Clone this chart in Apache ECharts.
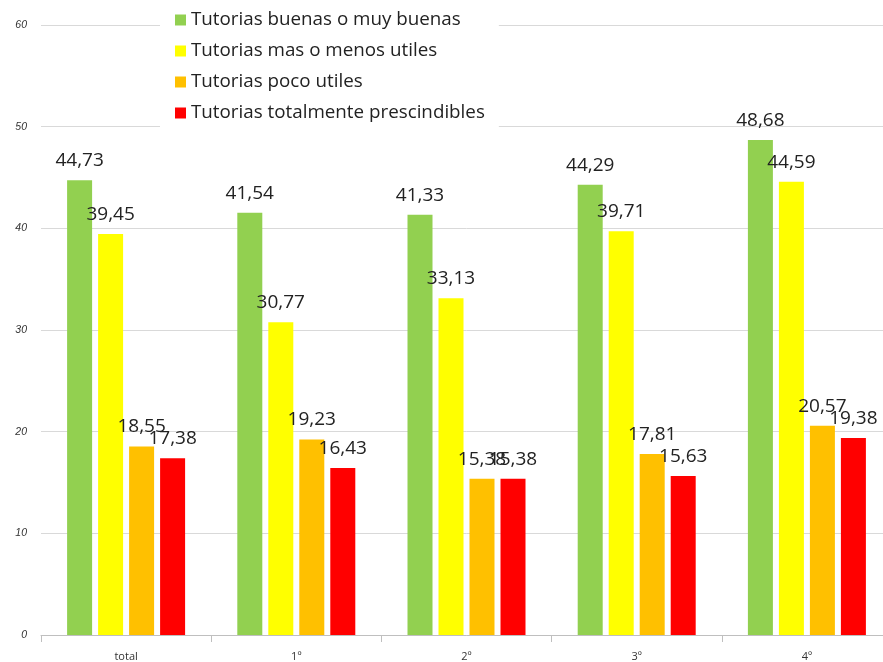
<!DOCTYPE html>
<html>
<head>
<meta charset="utf-8">
<script src="https://cdn.jsdelivr.net/npm/echarts@6/dist/echarts.min.js"></script>
<style>
html,body{margin:0;padding:0;background:#fff;overflow:hidden;width:883px;height:662px;}
#chart{width:892px;height:662px;}
</style>
</head>
<body>
<div id="chart"></div>
<script>
const categories = ['total', '1º', '2º', '3º', '4º'];
const seriesNames = [
  'Tutorias buenas o muy buenas',
  'Tutorias mas o menos utiles',
  'Tutorias poco utiles',
  'Tutorias totalmente prescindibles'
];
const buenas = [44.73, 41.54, 41.33, 44.29, 48.68];
const masMenos = [39.45, 30.77, 33.13, 39.71, 44.59];
const poco = [18.55, 19.23, 15.38, 17.81, 20.57];
const prescindibles = [17.38, 16.43, 15.38, 15.63, 19.38];
const colors = ['#92d050', '#ffff00', '#ffc000', '#ff0000'];
const yTicks = [0, 10, 20, 30, 40, 50, 60];

const chart = echarts.init(document.getElementById('chart'));
const allData = [buenas, masMenos, poco, prescindibles];

chart.setOption({
  animation: false,
  backgroundColor: '#ffffff',
  color: colors,
  grid: { left: 41, top: 25, right: 0, bottom: 27, containLabel: false },
  legend: {
    orient: 'vertical',
    left: 160,
    top: 0,
    padding: [9, 14, 12, 15],
    backgroundColor: '#ffffff',
    itemWidth: 11,
    itemHeight: 11,
    itemGap: 9,
    icon: 'rect',
    textStyle: { fontFamily: 'Open Sans', fontSize: 18.8, color: '#222', lineHeight: 22 },
    data: seriesNames
  },
  xAxis: {
    type: 'category',
    data: categories,
    axisLine: { lineStyle: { color: '#bfbfbf' } },
    axisTick: { show: true, length: 7, lineStyle: { color: '#bfbfbf' } },
    axisLabel: { fontFamily: 'Open Sans', fontSize: 11, color: '#333', margin: 16 }
  },
  yAxis: {
    type: 'value',
    min: yTicks[0],
    max: yTicks[yTicks.length - 1],
    interval: 10,
    axisLine: { show: false },
    axisTick: { show: false },
    axisLabel: { fontFamily: 'Liberation Sans', fontStyle: 'italic', fontSize: 10.5, color: '#333', margin: 14 },
    splitLine: { lineStyle: { color: '#d9d9d9' } }
  },
  series: seriesNames.map((name, i) => ({
    name: name,
    type: 'bar',
    data: allData[i],
    barWidth: 25,
    barGap: '24%',
    itemStyle: { color: colors[i] },
    label: {
      show: true,
      position: 'top',
      distance: 10,
      fontFamily: 'Open Sans',
      fontSize: 19,
      color: '#222',
      formatter: p => p.value.toFixed(2).replace('.', ',')
    }
  }))
});
</script>
</body>
</html>
